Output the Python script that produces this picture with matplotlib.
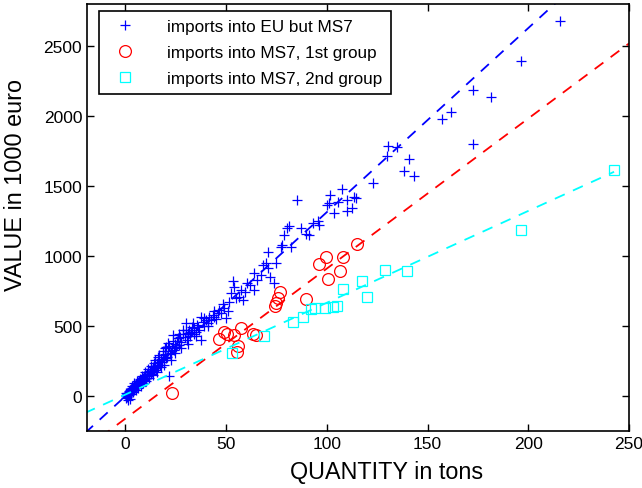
import numpy as np
import matplotlib
matplotlib.use("Agg")
import matplotlib.pyplot as plt

plt.rcParams['font.family'] = ['Liberation Sans', 'DejaVu Sans']

# imports into EU but MS7 (quantity in tons, value in 1000 euro)
eu_qty = [0.2, 0.4, 0.6, 0.8, 1.0, 1.1, 1.3, 1.5, 1.6, 1.8, 2.0, 2.2, 2.4, 2.5, 2.7,
          2.9, 3.0, 3.2, 3.4, 3.6, 3.8, 4.0, 4.2, 4.4, 4.6, 4.8, 5.0, 5.2, 5.5, 5.7,
          6.0, 6.2, 6.5, 6.8, 7.0, 7.3, 7.6, 7.9, 8.2, 8.5, 8.8, 9.1, 9.4, 9.7, 10.0,
          10.3, 10.7, 11.0, 11.4, 11.8, 12.2, 12.6, 13.0, 13.4, 13.8, 14.2, 14.5, 14.8,
          15.3, 15.6, 16.0, 16.2, 16.6, 17.0, 17.5, 18.0, 18.5, 19.0, 19.5, 19.8, 20.3,
          20.6, 21.0, 21.4, 21.9, 22.3, 22.8, 23.2, 23.6, 24.0, 24.6, 25.2, 25.8, 26.1,
          26.6, 27.2, 27.8, 28.5, 28.8, 29.4, 30.2, 30.6, 31.0, 31.5, 32.2, 32.7, 33.3,
          34.0, 34.3, 35.1, 35.6, 36.0, 36.8, 37.6, 37.6, 38.5, 39.2, 40.1, 40.9, 41.6,
          42.6, 43.4, 44.2, 45.0, 46.0, 46.7, 47.5, 49.2, 50.0, 51.7, 52.5, 53.3, 53.8,
          55.0, 56.6, 57.5, 58.3, 59.5, 60.2, 62.0, 63.7, 64.0, 65.5, 67.3, 68.2, 69.8,
          70.6, 70.9, 71.9, 73.9, 74.8, 77.2, 78.0, 78.6, 80.5, 81.3, 82.2, 85.0, 87.1,
          89.6, 91.2, 93.4, 95.4, 96.2, 100.0, 101.1, 101.7, 103.6, 105.6, 107.8, 109.9,
          110.2, 112.4, 113.5, 114.4, 122.9, 130.0, 130.5, 135.0, 138.3, 140.6, 143.2,
          157.3, 161.5, 172.4, 172.6, 181.6, 196.5, 215.8,
          0.5, 1.2, 1.9, 2.3, 2.8, 3.3, 3.9, 4.5, 5.1, 5.9, 6.4, 7.1, 7.8, 8.4, 9.0,
          9.9, 10.5, 11.2, 12.0, 12.8, 13.6, 14.9, 15.9, 16.9, 17.8, 18.8, 19.3, 20.1,
          21.7, 22.5, 23.9, 24.8, 26.9, 27.5, 29.9, 30.9, 33.8, 35.0, 38.9, 41.1, 43.8,
          48.3, 50.8]
eu_val = [0, -15, 10, 20, -5, 15, 25, 5, 30, 18, 35, 22, 40, 28, 45,
          33, 50, 38, 55, 44, 60, 52, 68, 56, 72, 62, 80, 66, 85, 74,
          92, 80, 98, 88, 105, 94, 112, 100, 120, 108, 128, 115, 140, 125, 150,
          132, 158, 140, 168, 150, 178, 160, 195, 172, 205, 185, 233, 198,
          186, 225, 210, 281, 240, 222, 262, 240, 290, 260, 341, 300, 352,
          280, 376, 318, 140, 300, 305, 345, 436, 330, 372, 350, 395, 412,
          365, 420, 385, 471, 440, 424, 519, 400, 448, 471, 430, 459, 490,
          445, 483, 429, 510, 495, 470, 400, 567, 531, 500, 543, 519, 565,
          543, 580, 567, 548, 590, 614, 590, 626, 555, 674, 733, 819, 781,
          700, 709, 760, 686, 740, 805, 790, 876, 757, 830, 864, 936, 947,
          1031, 912, 852, 805, 947, 1066, 1079, 1150, 1202, 1216, 1066, 1400, 1198,
          1157, 1150, 1238, 1252, 1221, 1366, 1376, 1436, 1305, 1388, 1476, 1321,
          1400, 1340, 1424, 1412, 1524, 1711, 1788, 1776, 1607, 1693, 1571,
          1981, 2026, 2186, 1800, 2136, 2393, 2679,
          25, -30, 5, -20, 15, 70, 30, 90, 45, 110, 60, 125, 75, 145, 95,
          170, 110, 190, 130, 215, 150, 255, 170, 290, 205, 320, 225, 270,
          360, 255, 390, 310, 440, 340, 470, 375, 520, 460, 560, 500, 610,
          660, 610]

# imports into MS7, 1st group
g1_qty = [23.3, 46.7, 49.0, 50.5, 54.1, 55.4, 56.1, 57.3, 63.5, 65.0, 74.3,
          74.9, 75.7, 76.7, 89.8, 96.2, 99.6, 100.4, 106.6, 108.1, 115.1]
g1_val = [24, 409, 459, 440, 436, 317, 357, 488, 440, 436, 643,
          662, 698, 740, 690, 944, 994, 836, 894, 995, 1086]

# imports into MS7, 2nd group
g2_qty = [53, 69, 83, 88, 92, 94, 99, 103, 105, 108, 117.6, 120, 129, 139.6, 196.5, 242.6]
g2_val = [310, 428, 526, 566, 625, 626, 630, 636, 641, 766, 821, 708, 899, 890, 1183, 1617]

# fitted lines (slope, intercept)
eu_fit = (13.15, -2)
g1_fit = (10.72, -162)
g2_fit = (6.56, 10)

fig = plt.figure(figsize=(6.42, 4.89), dpi=100)
ax = fig.add_axes([87 / 642, 1 - 432 / 489, 542 / 642, 427 / 489])

ms = dict(linestyle='none', markerfacecolor='none', markeredgewidth=0.9)
ax.plot(eu_qty, eu_val, marker='+', color='blue', markersize=7.5,
        label='imports into EU but MS7', **ms)
ax.plot(g1_qty, g1_val, marker='o', color='red', markersize=8.5,
        label='imports into MS7, 1st group', **ms)
ax.plot(g2_qty, g2_val, marker='s', color='cyan', markersize=7.5,
        label='imports into MS7, 2nd group', **ms)

dash = (0, (6, 5))
xs = np.array([-20, 250])
ax.plot(xs, eu_fit[0] * xs + eu_fit[1], color='blue', linestyle=dash, lw=1.3)
ax.plot(xs, g1_fit[0] * xs + g1_fit[1], color='red', linestyle=dash, lw=1.3)
xs2 = np.array([-20, max(g2_qty)])
ax.plot(xs2, g2_fit[0] * xs2 + g2_fit[1], color='cyan', linestyle=dash, lw=1.3)

ax.set_xlim(-19, 250)
ax.set_ylim(-250, 2800)
ax.set_xticks([0, 50, 100, 150, 200, 250])
ax.set_yticks([0, 500, 1000, 1500, 2000, 2500])
ax.tick_params(direction='in', top=True, right=True, length=5, width=1, labelsize=12.5)
for s in ax.spines.values():
    s.set_linewidth(1.2)

ax.set_xlabel('QUANTITY in tons', fontsize=16.8)
ax.set_ylabel('VALUE in 1000 euro', fontsize=16.8)
ax.xaxis.set_label_coords(0.552, -0.068)
ax.yaxis.set_label_coords(-0.111, 0.578)

leg = ax.legend(loc='upper left', bbox_to_anchor=(0.022, 0.984), borderaxespad=0,
                fontsize=12.3, fancybox=False, framealpha=1, edgecolor='black',
                handletextpad=1.5, labelspacing=0.62, borderpad=0.5)
leg.get_frame().set_linewidth(1.2)

plt.savefig('out.png', dpi=100)
